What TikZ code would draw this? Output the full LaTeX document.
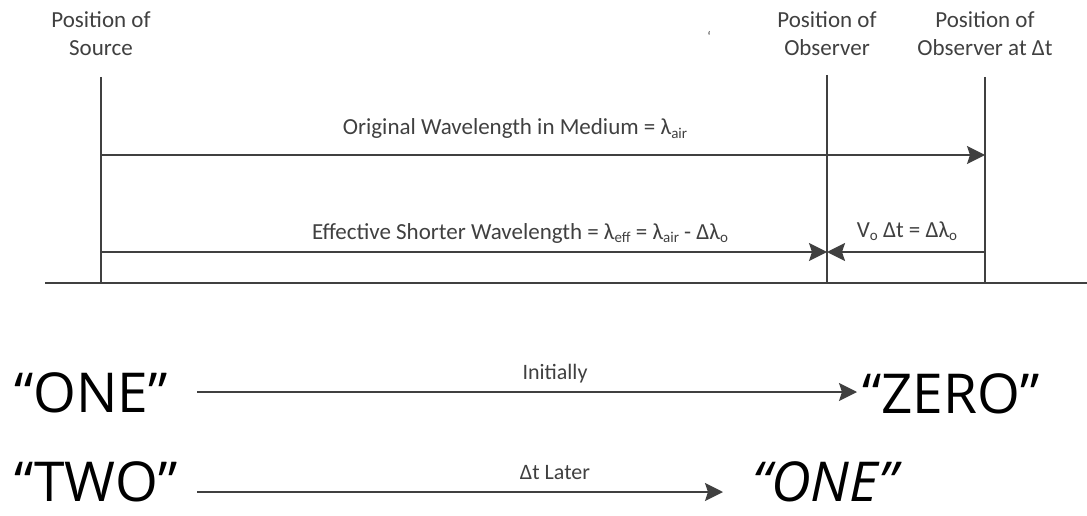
\documentclass[tikz,border=0pt]{standalone}
\usepackage{fontspec}
\setmainfont{Carlito}
\newfontfamily\bigfont{Open Sans}
\usetikzlibrary{arrows.meta}
\newcommand\lowsub[1]{\raisebox{-0.35ex}{\fontsize{15}{15}\selectfont #1}}
\definecolor{ink}{HTML}{404040}
\tikzset{
  lab/.style={font=\fontsize{23}{28}\selectfont, text=ink, align=center, inner sep=0pt},
  small/.style={font=\fontsize{22}{24}\selectfont, text=ink, inner sep=0pt},
  big/.style={font=\bigfont\fontsize{55}{58}\selectfont, inner sep=0pt, anchor=base},
  rule/.style={draw=ink, line width=2pt},
  arr/.style={rule, -{Stealth[length=18pt,width=18pt,inset=3pt]}, shorten >=0pt},
}
\begin{document}
\begin{tikzpicture}[x=1pt,y=-1pt]
\useasboundingbox (0,0) rectangle (1087,516);
% top labels
\node[lab, anchor=north] (src) at (101,11) {Position of\\Source};
\node[lab, anchor=north] (obs) at (827,11) {Position of\\Observer};
\node[lab, anchor=north] (obsdt) at (985,11) {Position of\\Observer at Δt};
\node[lab] (tick) at (709,36) {\fontsize{14}{14}\selectfont `};
% vertical lines
\coordinate (s1) at (101,77); \coordinate (s2) at (101,283);
\coordinate (o1) at (827,75); \coordinate (o2) at (827,283);
\coordinate (d1) at (985,77); \coordinate (d2) at (985,283);
\coordinate (g1) at (45,283); \coordinate (g2) at (1087,283);
\draw[rule] (s1) -- (s2);
\draw[rule] (o1) -- (o2);
\draw[rule] (d1) -- (d2);
\draw[rule] (g1) -- (g2);
% arrow rows
\coordinate (a1s) at (101,155); \coordinate (a1e) at (985,155);
\draw[arr] (a1s) -- (a1e);
\node[lab, anchor=base] (orig) at (515,135) {Original Wavelength in Medium = λ\lowsub{air}};
\coordinate (a2s) at (101,252); \coordinate (a2e) at (827,252);
\coordinate (a3s) at (985,252);
\draw[arr] (a2s) -- (a2e);
\draw[arr] (a3s) -- (a2e);
\node[lab, anchor=base] (eff) at (520,239) {Effective Shorter Wavelength = λ\lowsub{eff} = λ\lowsub{air} - Δλ\lowsub{o}};
\node[lab, anchor=base] (vo) at (907,237) {V\lowsub{o} Δt = Δλ\lowsub{o}};
% bottom
\node[big, anchor=base west] (one) at (14,412) {“ONE”};
\node[big, anchor=base west] (zero) at (862,413) {“ZERO”};
\node[big, anchor=base west] (two) at (14,501) {“TWO”};
\node[big, anchor=base west] (one2) at (752,501) {\itshape “ONE”};
\coordinate (b1s) at (197,392); \coordinate (b1e) at (857,392);
\draw[arr] (b1s) -- (b1e);
\node[small, anchor=base] (init) at (555,379) {Initially};
\coordinate (b2s) at (197,492); \coordinate (b2e) at (723,492);
\draw[arr] (b2s) -- (b2e);
\node[small, anchor=base] (later) at (555,479) {Δt Later};
\end{tikzpicture}
\end{document}
